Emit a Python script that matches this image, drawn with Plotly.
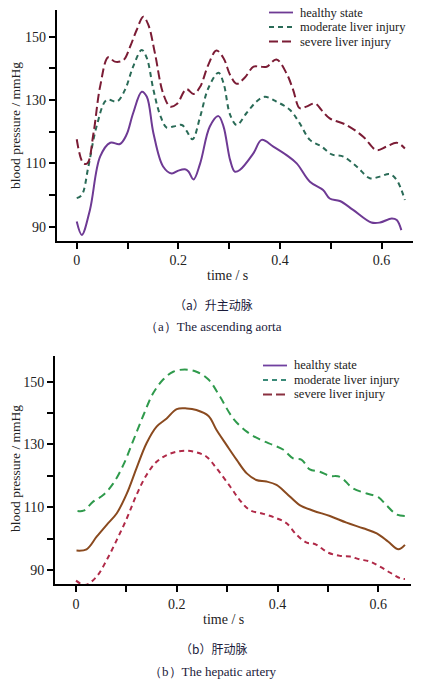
import plotly.graph_objects as go

# ---- (a) ascending aorta ----
a_healthy_t = [0, 0.01, 0.026, 0.046, 0.066, 0.085, 0.098, 0.111, 0.128, 0.138, 0.151, 0.170,
               0.187, 0.2, 0.213, 0.22, 0.23, 0.243, 0.262, 0.279, 0.289, 0.302, 0.311, 0.321,
               0.348, 0.364, 0.387, 0.413, 0.433, 0.459, 0.485, 0.498, 0.518, 0.544, 0.580,
               0.597, 0.62, 0.63, 0.639]
a_healthy_p = [91.6, 87.4, 95.3, 112.1, 116.5, 116.1, 119, 125.8, 132.6, 131, 119.5, 109,
               106.8, 107.7, 108.1, 107.4, 104.9, 110, 121.6, 124.9, 121.6, 111, 107.4, 107.9,
               113.2, 117.4, 115.3, 112.6, 110, 104.2, 101.6, 98.9, 98.1, 95.3, 91.3,
               91.3, 92.6, 92.1, 88.9]

a_moderate_t = [0, 0.01, 0.023, 0.039, 0.059, 0.079, 0.095, 0.111, 0.128, 0.138, 0.151, 0.164,
                0.177, 0.19, 0.207, 0.216, 0.228, 0.243, 0.259, 0.279, 0.289, 0.302, 0.315,
                0.334, 0.354, 0.370, 0.393, 0.420, 0.439, 0.459, 0.482, 0.502, 0.525, 0.551,
                0.577, 0.597, 0.616, 0.63, 0.646]
a_moderate_p = [99, 100, 109, 121.6, 130, 129.5, 133.2, 140.5, 145.8, 143.2, 133.2, 125.3,
                121.3, 121.6, 122.1, 120.3, 117.6, 124.7, 133.7, 138.6, 135.3, 125.3, 122.1,
                125.8, 129.5, 131, 129.5, 126.8, 122.6, 117.4, 115.3, 112.8, 112.1, 109,
                105.3, 105.8, 106.6, 104.7, 98.4]

a_severe_t = [0, 0.013, 0.021, 0.033, 0.046, 0.062, 0.075, 0.092, 0.105, 0.118, 0.131, 0.141,
              0.154, 0.170, 0.184, 0.197, 0.216, 0.23, 0.243, 0.259, 0.275, 0.289, 0.302,
              0.315, 0.331, 0.348, 0.361, 0.374, 0.393, 0.413, 0.426, 0.439, 0.452, 0.469,
              0.482, 0.498, 0.531, 0.564, 0.590, 0.610, 0.630, 0.646]
a_severe_p = [117.6, 110, 110, 119.5, 134.2, 143.5, 142.1, 142.6, 146.8, 152.1, 156.3, 153.7,
              144.7, 132.1, 127.9, 128.7, 133.4, 131.9, 134.2, 141.1, 145.6, 143.2, 137.9,
              135.1, 137.1, 140.5, 140.5, 140.5, 142.8, 138.4, 133.2, 127.4, 127.9, 128.9,
              126.8, 124.2, 122.1, 118.4, 114.2, 115.3, 116.5, 114.7]

# ---- (b) hepatic artery ----
b_healthy_t = [0.001, 0.021, 0.041, 0.061, 0.081, 0.101, 0.120, 0.140, 0.160, 0.180, 0.2,
               0.220, 0.239, 0.263, 0.279, 0.299, 0.319, 0.339, 0.358, 0.378, 0.398, 0.418,
               0.444, 0.471, 0.504, 0.537, 0.570, 0.597, 0.620, 0.640, 0.653]
b_healthy_p = [96.2, 96.6, 100.6, 104.4, 108.1, 114.4, 122.4, 130.4, 135.7, 138.3, 141.3,
               141.5, 141, 139.1, 134.6, 129.8, 125.1, 120.8, 118.7, 118.2, 117.1, 114.4,
               110.7, 108.9, 107.2, 105.1, 103.3, 101.7, 99, 96.6, 98]

b_moderate_t = [0.003, 0.015, 0.034, 0.054, 0.074, 0.094, 0.114, 0.134, 0.153, 0.173, 0.193,
                0.216, 0.239, 0.263, 0.286, 0.312, 0.339, 0.365, 0.392, 0.411, 0.431, 0.448,
                0.464, 0.484, 0.504, 0.524, 0.550, 0.577, 0.600, 0.616, 0.636, 0.653]
b_moderate_p = [108.8, 108.9, 111.8, 113.9, 117.6, 123.5, 131.4, 139.4, 146.3, 150.7, 153.2,
                153.9, 153.2, 150.7, 145.2, 138.3, 134.1, 131.6, 129.8, 128.4, 125.6, 125.1,
                122.1, 121.3, 120, 119.7, 116, 114.4, 113.2, 110.7, 107.7, 107.2]

b_severe_t = [0, 0.018, 0.041, 0.061, 0.081, 0.101, 0.120, 0.140, 0.160, 0.180, 0.2, 0.220,
              0.239, 0.259, 0.279, 0.306, 0.325, 0.345, 0.372, 0.398, 0.418, 0.438, 0.458,
              0.474, 0.501, 0.524, 0.544, 0.563, 0.583, 0.603, 0.623, 0.643, 0.653]
b_severe_p = [86.6, 85.2, 87.9, 93.2, 99.6, 106.5, 113.9, 120.3, 124.5, 126.6, 127.7, 128,
              127.5, 126.1, 122.4, 116.6, 112.3, 109.1, 107.9, 106.5, 104.9, 101.2, 98.7,
              98.3, 95.5, 94.5, 94.3, 93.4, 92.7, 91.1, 89.2, 87.4, 87.1]

names = ["healthy state", "moderate liver injury", "severe liver injury"]
x_ticks = [0, 0.1, 0.2, 0.3, 0.4, 0.5, 0.6]
x_labels = ["0", "", "0.2", "", "0.4", "", "0.6"]
y_ticks = [90, 100, 110, 120, 130, 140, 150]
y_labels = ["90", "", "110", "", "130", "", "150"]

serif = "Liberation Serif"
W, H = 428, 681

fig = go.Figure()

# top panel
top_style = [("#6e3a94", "solid"), ("#2a6b57", "5px,4px"), ("#7b1c35", "9px,4px")]
for (t, p), nm, (c, d) in zip([(a_healthy_t, a_healthy_p), (a_moderate_t, a_moderate_p),
                               (a_severe_t, a_severe_p)], names, top_style):
    fig.add_trace(go.Scatter(x=t, y=p, name=nm, mode="lines", showlegend=False,
                             line=dict(color=c, width=2, shape="spline", dash=d),
                             xaxis="x", yaxis="y"))

# bottom panel
bot_style = [("#8a4a1f", "solid"), ("#2f9a4c", "8px,5px"), ("#b02a48", "5px,4px")]
for (t, p), nm, (c, d) in zip([(b_healthy_t, b_healthy_p), (b_moderate_t, b_moderate_p),
                               (b_severe_t, b_severe_p)], names, bot_style):
    fig.add_trace(go.Scatter(x=t, y=p, name=nm, mode="lines", showlegend=False,
                             line=dict(color=c, width=2, shape="spline", dash=d),
                             xaxis="x2", yaxis="y2"))

axis_common = dict(showline=True, linecolor="black", linewidth=1.8, ticks="outside",
                   ticklen=6, tickwidth=1.6, tickcolor="black", showgrid=False,
                   zeroline=False, automargin=False,
                   tickfont=dict(family=serif, size=14, color="#222"))

fig.update_layout(
    width=W, height=H,
    margin=dict(l=0, r=0, t=0, b=0),
    paper_bgcolor="white", plot_bgcolor="white",
    font=dict(family=serif, size=13, color="#222"),
    showlegend=False,
    xaxis=dict(axis_common, domain=[0.1325, 0.965], range=[-0.0394, 0.662],
               tickvals=x_ticks, ticktext=x_labels, anchor="y"),
    yaxis=dict(axis_common, domain=[0.6466, 0.9853], range=[85.58, 158.4],
               tickvals=y_ticks, ticktext=y_labels, anchor="x"),
    xaxis2=dict(axis_common, domain=[0.1285, 0.9603], range=[-0.0417, 0.665],
                tickvals=x_ticks, ticktext=x_labels, anchor="y2"),
    yaxis2=dict(axis_common, domain=[0.142, 0.4772], range=[85.44, 158.2],
                tickvals=y_ticks, ticktext=y_labels, anchor="x2"),
)

# axis arrows
arrows = [
    dict(x=0.672, y=85.58, xref="x", yref="y", ax=-10, ay=0),
    dict(x=-0.0394, y=160.2, xref="x", yref="y", ax=0, ay=10),
    dict(x=0.673, y=85.44, xref="x2", yref="y2", ax=-10, ay=0),
    dict(x=-0.0417, y=160.0, xref="x2", yref="y2", ax=0, ay=10),
]
for a in arrows:
    fig.add_annotation(a, text="", showarrow=True, arrowhead=2, arrowsize=1,
                       arrowwidth=1.5, arrowcolor="black", axref="pixel", ayref="pixel")


def px(xp, yp):
    return xp / W, 1 - yp / H


def label(txt, xp, yp, font, xanchor="center", angle=0):
    x, y = px(xp, yp)
    fig.add_annotation(text=txt, x=x, y=y, xref="paper", yref="paper", showarrow=False,
                       xanchor=xanchor, yanchor="middle", textangle=angle, font=font,
                       borderpad=0)


# axis titles
title_font = dict(family=serif, size=14, color="#222")
label("time / s", 227, 275, title_font)
label("time / s", 224, 619, title_font)
label("blood pressure / mmHg", 15, 126, dict(title_font, size=13.5), angle=-90)
label("blood pressure / mmHg", 15, 469, dict(title_font, size=13.5), angle=-90)

# legends (drawn by hand so rows sit as tight as in the original)
legends = [
    (269, 293, [12.5, 27, 41.5], top_style),
    (263, 287, [365.5, 380, 394.5], [("#7040a0", "solid"), ("#3a8a78", "5px,4px"),
                                     ("#8a3040", "9px,4px")]),
]
for x0, x1, rows, styles in legends:
    for yp, nm, (c, d) in zip(rows, names, styles):
        xa, ya = px(x0, yp)
        xb, _ = px(x1, yp)
        fig.add_shape(type="line", xref="paper", yref="paper", x0=xa, x1=xb, y0=ya, y1=ya,
                      line=dict(color=c, width=1.8, dash=d))
        label(nm, x1 + 6, yp, dict(family=serif, size=12.5, color="#222"), xanchor="left")

# captions
cap_cn = dict(family="Noto Sans CJK SC", size=12, color="#1a1a3a")
cap_en = dict(family=serif, size=13, color="#1a1a3a")
label("（a）升主动脉", 213, 304, cap_cn)
label("（a）The ascending aorta", 213, 327, cap_en)
label("（b）肝动脉", 213, 648, cap_cn)
label("（b）The hepatic artery", 213, 671, cap_en)

# page body has a default 8px margin; drop it so the figure fills the window
fig.write_html("out.html", config={"displayModeBar": False},
               post_script="document.body.style.margin='0';")
